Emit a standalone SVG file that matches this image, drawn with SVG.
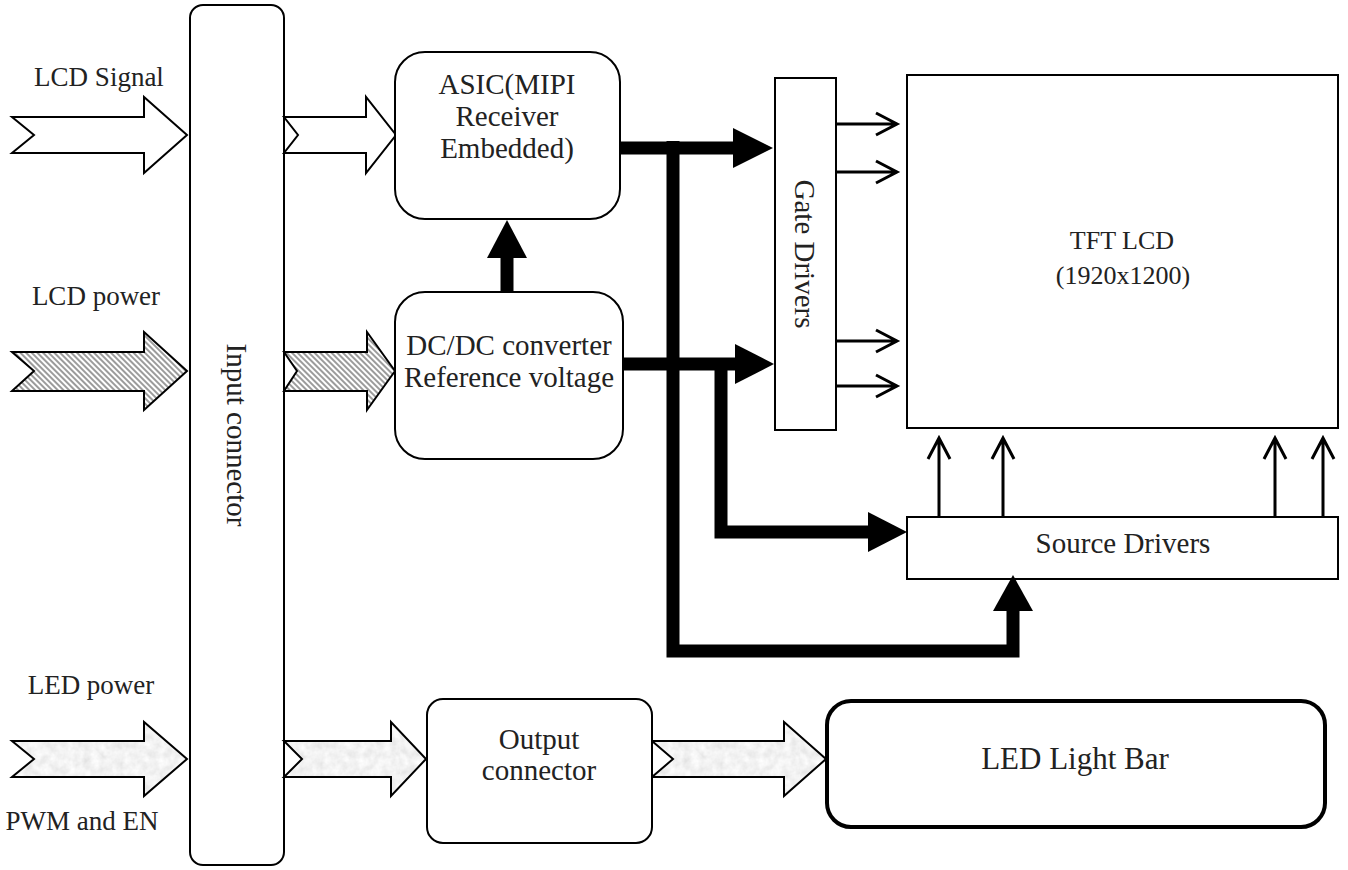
<svg xmlns="http://www.w3.org/2000/svg" width="1348" height="870" viewBox="0 0 1348 870">
<style>
.t{font-family:'Liberation Serif','Times New Roman',Tinos,'DejaVu Serif',serif;fill:#222;text-anchor:middle}
.lbl{font-size:27px}
.bt{font-size:29px}
.box{fill:#fff;stroke:#000;stroke-width:2}
.sig{fill:#fff;stroke:#000;stroke-width:2;stroke-linejoin:miter}
.pwr{fill:url(#hatch);stroke:#000;stroke-width:2}
.led{fill:url(#mottle);stroke:#000;stroke-width:2}
.thick{fill:none;stroke:#000;stroke-width:13;stroke-linejoin:miter;stroke-linecap:butt}
.head{fill:#000}
.thin{fill:none;stroke:#000;stroke-width:3}
</style>
<defs>
<pattern id="hatch" patternUnits="userSpaceOnUse" width="4" height="10" patternTransform="rotate(-45)">
<rect width="4" height="10" fill="#fff"/>
<line x1="1" y1="0" x2="1" y2="10" stroke="#666" stroke-width="1.3"/>
</pattern>
<filter id="noise" x="0" y="0" width="100%" height="100%">
<feTurbulence type="fractalNoise" baseFrequency="0.12" numOctaves="3" seed="4"/>
<feColorMatrix type="matrix" values="0.3 0 0 0 0.74  0.3 0 0 0 0.74  0.3 0 0 0 0.74  0 0 0 0 1"/>
</filter>
<pattern id="mottle" patternUnits="userSpaceOnUse" width="200" height="100">
<rect width="200" height="100" fill="#e5e5e5" filter="url(#noise)"/>
</pattern>
</defs>

<g id="labels" class="t" font-family="Liberation Serif, serif">
<text class="lbl" x="99" y="86">LCD Signal</text>
<text class="lbl" x="96" y="305">LCD power</text>
<text class="lbl" x="91" y="694">LED power</text>
<text class="lbl" x="82" y="830">PWM and EN</text>
</g>

<g id="input-arrows">
<polygon class="sig" points="12,117 144,117 144,97 187,135 144,173 144,153 12,153 34,135"/>
<polygon class="pwr" points="12,352 144,352 144,332 187,371 144,410 144,391 12,391 34,371"/>
<polygon class="led" points="12,741 144,741 144,722 187,759 144,796 144,777 12,777 34,759"/>
</g>

<g id="input-connector">
<rect class="box" x="190" y="5" width="94" height="860" rx="13"/>
<text class="t bt" font-family="Liberation Serif, serif" transform="translate(237,435) rotate(90)" y="10">Input connector</text>
</g>

<g id="inner-arrows">
<polygon class="sig" points="284,117 366,117 366,97 396,135 366,173 366,153 284,153 298,135"/>
<polygon class="pwr" points="284,352 367,352 367,332 395,371 367,410 367,391 284,391 297,371"/>
<polygon class="led" points="284,741 391,741 391,722 426,759 391,796 391,777 284,777 302,759"/>
<polygon class="led" points="652,741 784,741 784,722 826,759 784,796 784,777 652,777 673,759"/>
</g>

<g id="asic">
<rect class="box" x="395" y="52" width="225" height="167" rx="30"/>
<g class="t bt" font-family="Liberation Serif, serif">
<text x="507" y="94">ASIC(MIPI</text>
<text x="507" y="126">Receiver</text>
<text x="507" y="158">Embedded)</text>
</g>
</g>

<g id="dcdc">
<rect class="box" x="395" y="292" width="228" height="167" rx="30"/>
<g class="t bt" font-family="Liberation Serif, serif">
<text x="509" y="355">DC/DC converter</text>
<text x="509" y="387">Reference voltage</text>
</g>
</g>

<g id="gate-drivers">
<rect class="box" x="775" y="78" width="61" height="352"/>
<text class="t bt" font-family="Liberation Serif, serif" transform="translate(805,254) rotate(90)" y="10">Gate Drivers</text>
</g>

<g id="tft-lcd">
<rect class="box" x="907" y="75" width="431" height="353"/>
<g class="t" font-family="Liberation Serif, serif" font-size="26">
<text x="1122" y="249">TFT LCD</text>
<text x="1123" y="284">(1920x1200)</text>
</g>
</g>

<g id="source-drivers">
<rect class="box" x="907" y="517" width="431" height="62"/>
<text class="t bt" font-family="Liberation Serif, serif" x="1123" y="553">Source Drivers</text>
</g>

<g id="output-connector">
<rect class="box" x="427" y="699" width="225" height="144" rx="16"/>
<g class="t bt" font-family="Liberation Serif, serif">
<text x="539" y="749">Output</text>
<text x="539" y="780">connector</text>
</g>
</g>

<g id="led-light-bar">
<rect x="827" y="701" width="498" height="126" rx="24" fill="#fff" stroke="#000" stroke-width="4"/>
<text class="t" font-family="Liberation Serif, serif" x="1075" y="769" font-size="31">LED Light Bar</text>
</g>

<g id="connectors">
<line class="thick" x1="507" y1="292" x2="507" y2="256"/>
<polygon class="head" points="487,258 527,258 507,220"/>
<polyline class="thick" points="620,148 735,148"/>
<polygon class="head" points="733,128 733,168 773,148"/>
<polyline class="thick" points="673,141 673,651 1013,651 1013,609"/>
<polygon class="head" points="993,611 1033,611 1013,575"/>
<polyline class="thick" points="623,364 737,364"/>
<polygon class="head" points="735,344 735,384 774,364"/>
<polyline class="thick" points="721,364 721,532 870,532"/>
<polygon class="head" points="868,512 868,552 907,532"/>
<g class="thin">
<path d="M836,124H896M876,113L897,124L876,135"/>
<path d="M836,172H896M876,161L897,172L876,183"/>
<path d="M836,341H896M876,330L897,341L876,352"/>
<path d="M836,386H896M876,375L897,386L876,397"/>
<path d="M939,517V439M928,459L939,438L950,459"/>
<path d="M1003,517V439M992,459L1003,438L1014,459"/>
<path d="M1275,517V439M1264,459L1275,438L1286,459"/>
<path d="M1323,517V439M1312,459L1323,438L1334,459"/>
</g>
</g>
</svg>
